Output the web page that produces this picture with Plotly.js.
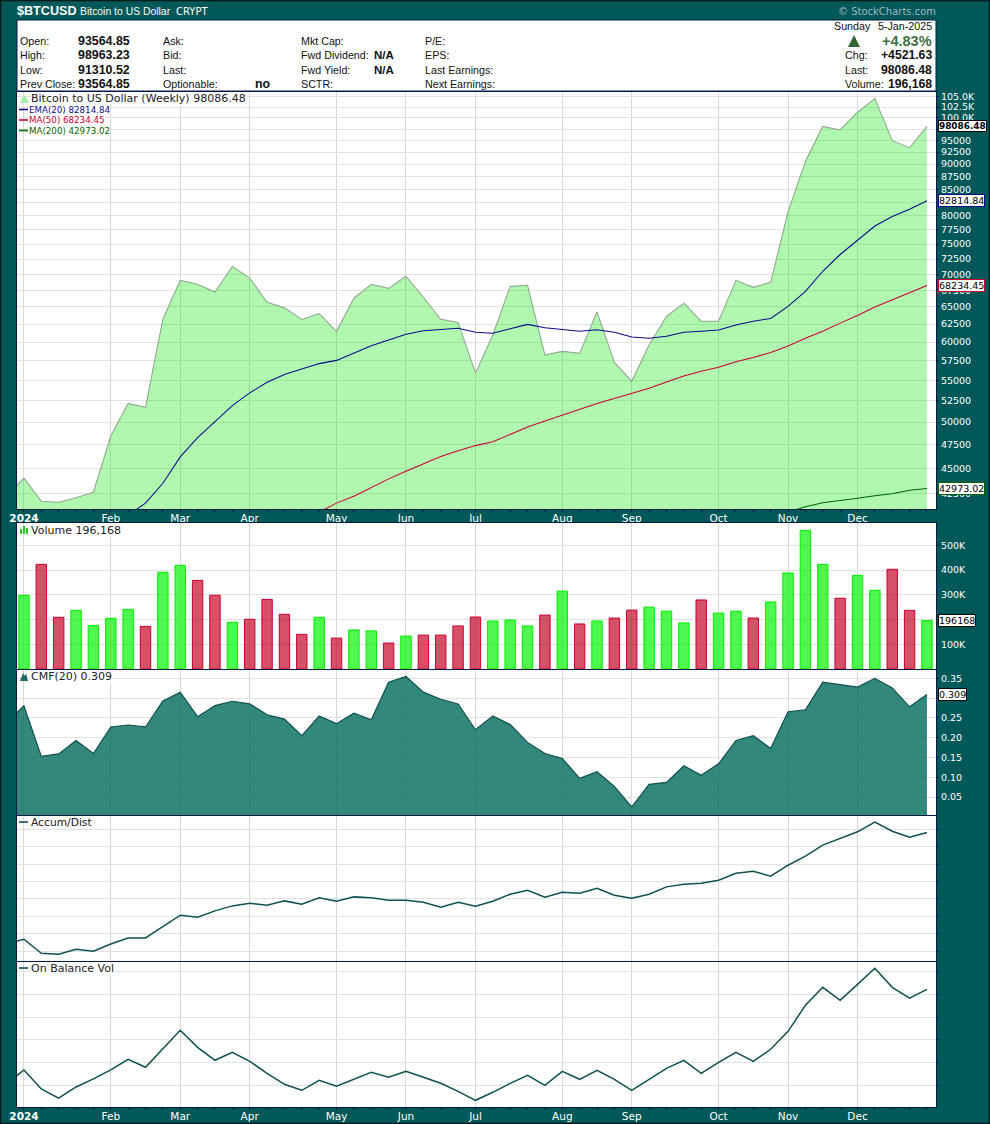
<!DOCTYPE html>
<html><head><meta charset="utf-8">
<script src="https://cdn.plot.ly/plotly-3.0.0.min.js"></script>
<style>html,body{margin:0;padding:0;background:#005858}#c{width:990px;height:1124px}</style>
</head><body><div id="c"></div>
<script>
// ---- data (weekly, index 0 = first week of 2024; index -1 is the clipped week before) ----
const weekIndex = [-1,0,1,2,3,4,5,6,7,8,9,10,11,12,13,14,15,16,17,18,19,20,21,22,23,24,25,26,27,28,29,30,31,32,33,34,35,36,37,38,39,40,41,42,43,44,45,46,47,48,49,50,51,52];
const monthIndex = [0,5,9,13,18,22,26,31,35,40,44,48];
const monthLabels = ['<b>2024</b>','Feb','Mar','Apr','May','Jun','Jul','Aug','Sep','Oct','Nov','Dec'];
const closePrice = [42270,44000,41730,41640,42075,42600,48430,52155,51700,63200,69060,68440,67230,71270,69420,65700,64860,63160,64000,61490,66300,68440,67810,69690,66450,63200,62740,55890,60970,68120,68280,58240,58740,58470,64240,57280,54870,59600,63600,65560,62920,62920,69060,67960,68750,80740,90550,98090,97300,101300,104500,95000,93400,98086.48];
const ema20Start = 6;
const ema20 = [40430,41560,43480,46180,48240,50030,51900,53430,54750,55720,56430,57120,57540,58470,59500,60280,61060,61570,61770,61900,61340,61210,61850,62460,61980,61700,61490,61700,61340,60680,60510,60790,61340,61490,61670,62360,62920,63310,65090,67340,70500,73250,75730,78170,79890,81200,82814.84];
const ma50Start = 17;
const ma50 = [40720,41560,42210,43090,43920,44700,45470,46210,46830,47380,47790,48620,49440,50110,50790,51400,52150,52760,53390,54000,54770,55540,56120,56650,57370,57910,58600,59450,60510,61490,62640,63730,65000,66080,67190,68234.45];
const ma200Start = 44;
const ma200 = [40720,41210,41590,41790,42020,42270,42460,42790,42973.02];
const volume = [297600,423000,209000,237000,176000,205000,241000,172000,391000,419000,358000,298000,189000,201000,281000,221000,140000,209000,125000,158000,154000,105000,133000,137000,137000,174000,210000,194000,198000,174000,218000,315000,182000,194000,206000,238000,250000,234000,186000,279000,226000,234000,206000,271000,388000,560000,423000,286000,378000,318000,403000,237000,196168];
const volumeDirection = 'GRRGGGGRGGRRGRRRRGRGGRGRRRRGGGRGRGRRGGGRGGRGGGGRGGRRG';
const cmf = [0.237,0.2805,0.1525,0.159,0.1927,0.160,0.227,0.232,0.227,0.293,0.315,0.253,0.281,0.292,0.2856,0.258,0.247,0.205,0.2546,0.2354,0.262,0.2454,0.340,0.355,0.315,0.297,0.285,0.220,0.255,0.233,0.188,0.160,0.1475,0.097,0.114,0.077,0.025,0.082,0.087,0.129,0.105,0.134,0.193,0.205,0.1726,0.2655,0.2705,0.340,0.334,0.328,0.350,0.3257,0.278,0.309];
const accumDist = [0.45,0.688,-0.115,-0.172,0.115,0,0.42,0.765,0.765,1.396,2.065,1.95,2.314,2.6,2.753,2.64,2.887,2.696,3.06,2.868,3.117,3.06,2.925,2.925,2.81,2.524,2.81,2.58,2.868,3.27,3.5,3.1,3.384,3.327,3.614,3.212,3.04,3.27,3.69,3.843,3.9,4.07,4.474,4.59,4.3,4.93,5.45,6.08,6.46,6.845,7.4,6.88,6.54,6.8];
const onBalanceVol = [0.07,0.675,-0.16,-0.57,-0.073,0.279,0.675,1.144,0.792,1.6,2.42,1.67,1.1,1.45,1.056,0.528,0.044,-0.22,0.22,-0.044,0.264,0.572,0.352,0.616,0.352,0.088,-0.264,-0.66,-0.308,0.088,0.44,0,0.616,0.264,0.66,0.264,-0.22,0.264,0.748,1.1,0.528,1.012,1.452,1.056,1.584,2.375,3.52,4.31,3.74,4.44,5.147,4.31,3.83,4.22];
const priceTicks = [105000,102500,100000,97500,95000,92500,90000,87500,85000,82500,80000,77500,75000,72500,70000,67500,65000,62500,60000,57500,55000,52500,50000,47500,45000,42500];
const priceTickLabels = ['105.0K','102.5K','100.0K','','95000','92500','90000','87500','85000','','80000','77500','75000','72500','70000','67500','65000','62500','60000','57500','55000','52500','50000','47500','45000','42500'];
const volumeTicks = [100000,200000,300000,400000,500000];
const volumeTickLabels = ['100K','200K','300K','400K','500K'];
const cmfTicks = [0.05,0.10,0.15,0.20,0.25,0.30,0.35];
const cmfTickLabels = ['0.05','0.10','0.15','0.20','0.25','0.30','0.35'];
const accumGrid = [0,1,2,3,4,5,6,7];
const obvGrid = [0,1,2,3,4,5];
const column1 = ['Open:','High:','Low:','Prev Close:'];
const quoteValues = ['93564.85','98963.23','91310.52','93564.85'];
const column2 = ['Ask:','Bid:','Last:','Optionable:'];
const column3 = ['Mkt Cap:','Fwd Dividend:','Fwd Yield:','SCTR:'];
const column4 = ['P/E:','EPS:','Last Earnings:','Next Earnings:'];
const rightLabels = ['Chg:','Last:','Volume:'];
const rightValues = ['+4521.63','98086.48','196,168'];

// ---- layout helpers ----
const W=990,H=1124,L=17,R=936;
const TEAL='#005858',NAVY='#001a44',GRID='#e2e2e2',VGRID='#d8d8d8',LINE='#0f5050';
const px=x=>x/W, py=y=>1-y/H;
const panels=[[92,509],[523,669],[670,815],[816,961],[962,1107]];
const HF='"Liberation Sans",Arial,sans-serif', DF='"DejaVu Sans",Verdana,sans-serif';
const annotations=[], shapes=[];
function note(x,y,text,o={}){annotations.push(Object.assign({xref:'paper',yref:'paper',x:px(x),y:py(y),text,showarrow:false,xanchor:'left',yanchor:'middle',borderpad:0,borderwidth:0,font:{family:HF,size:10.7,color:'#111'}},o));}
function path(d,fill,line){shapes.push({type:'path',xref:'paper',yref:'paper',layer:'above',path:d,fillcolor:fill||'rgba(0,0,0,0)',line:{color:line||fill,width:line?1.6:0}});}
function P(pts,close=true){return 'M'+pts.map(p=>px(p[0])+','+py(p[1])).join('L')+(close?'Z':'');}
function dash(y,c){path(P([[19,y],[28,y]],false),null,c);}

function xaxis(n,labels){
 return {domain:[px(L),px(R)],range:[-0.4,52.52],anchor:'y'+(n==1?'':n),showgrid:true,gridcolor:VGRID,gridwidth:1,zeroline:false,
  showline:true,mirror:true,linecolor:NAVY,linewidth:1,tickmode:'array',tickvals:monthIndex,ticktext:monthLabels,showticklabels:!!labels,
  ticks:labels?'outside':'',ticklen:2,tickcolor:NAVY,tickfont:{family:DF,size:10.5,color:'#fff'},ticklabelstandoff:-3,
  minor:labels?{dtick:1,tick0:0,ticks:'outside',ticklen:2,tickcolor:NAVY,showgrid:false}:undefined};
}
function yaxis(n,o){
 const p=panels[n-1];
 return Object.assign({domain:[py(p[1]),py(p[0])],anchor:'x'+(n==1?'':n),side:'right',showgrid:true,gridcolor:GRID,gridwidth:1,zeroline:false,
  showline:true,mirror:true,linecolor:NAVY,linewidth:1,ticks:'outside',ticklen:2,tickcolor:NAVY,tickfont:{family:DF,size:9.5,color:'#fff'},tickmode:'array'},o);
}
const last=a=>a[a.length-1];
const tagX=52.52+0.145;
function tag(axis,val,yVal,color,isBold){
 annotations.push({xref:'paper',yref:axis,x:px(938),y:yVal,text:isBold?'<b>'+val+'</b>':val,showarrow:false,xanchor:'left',yanchor:'middle',
  bgcolor:'#fff',bordercolor:color,borderwidth:1,borderpad:0,font:{family:DF,size:isBold?8.9:9.5,color:'#000'}});
}
const traces=[];
// price panel
traces.push({x:weekIndex,y:closePrice,type:'scatter',mode:'lines',fill:'tozeroy',fillcolor:'rgba(0,230,0,0.31)',line:{color:'#90aa90',width:1.1},xaxis:'x',yaxis:'y',hoverinfo:'skip'});
const line=(start,arr,c)=>traces.push({x:arr.map((_,i)=>start+i),y:arr,type:'scatter',mode:'lines',line:{color:c,width:1.05},xaxis:'x',yaxis:'y',hoverinfo:'skip'});
line(ema20Start,ema20,'#0a0a8c');
line(ma50Start,ma50,'#cc0033');
line(ma200Start,ma200,'#006400');
// volume panel
const isUp=volume.map((_,i)=>volumeDirection[i]==='G');
traces.push({x:volume.map((_,i)=>i),y:volume,type:'bar',width:0.6,marker:{color:isUp.map(g=>g?'rgba(0,245,0,0.69)':'rgba(196,5,39,0.7)'),line:{color:isUp.map(g=>g?'#00ee00':'#cc0033'),width:1}},xaxis:'x2',yaxis:'y2',hoverinfo:'skip'});
// CMF
traces.push({x:weekIndex,y:cmf,type:'scatter',mode:'lines',fill:'tozeroy',fillcolor:'rgba(0,105,90,0.8)',line:{color:LINE,width:1.2},xaxis:'x3',yaxis:'y3',hoverinfo:'skip'});
// Accum/Dist, OBV
traces.push({x:weekIndex,y:accumDist,type:'scatter',mode:'lines',line:{color:LINE,width:1.5},xaxis:'x4',yaxis:'y4',hoverinfo:'skip'});
traces.push({x:weekIndex,y:onBalanceVol,type:'scatter',mode:'lines',line:{color:LINE,width:1.5},xaxis:'x5',yaxis:'y5',hoverinfo:'skip'});
// tag pointers (triangles) on the last values
function pointer(xa,ya,val,c){traces.push({x:[tagX],y:[val],type:'scatter',mode:'markers',cliponaxis:false,marker:{symbol:'triangle-left',size:7,color:'#fff',line:{color:c,width:1}},xaxis:xa,yaxis:ya,hoverinfo:'skip'});}
pointer('x','y',last(closePrice),'#000');
pointer('x','y',last(ema20),'#0a0a8c');
pointer('x','y',last(ma50),'#cc0033');
pointer('x','y',last(ma200),'#006400');
pointer('x2','y2',last(volume),'#000');
pointer('x3','y3',last(cmf),'#000');

// frame & header
shapes.push({type:'rect',xref:'paper',yref:'paper',layer:'below',x0:px(L),x1:px(R),y0:py(91),y1:py(20),fillcolor:'#fff',line:{color:NAVY,width:1}});
shapes.push({type:'rect',xref:'paper',yref:'paper',layer:'above',x0:px(0.5),x1:px(989.5),y0:py(1123.5),y1:py(0.5),fillcolor:'rgba(0,0,0,0)',line:{color:'#021a1a',width:1.5}});
note(17,11,'<b>$BTCUSD</b>',{font:{family:HF,size:12.6,color:'#fff'}});
note(80,11,'Bitcoin to US Dollar',{font:{family:HF,size:10.4,color:'#fff'}});
note(176,11,'CRYPT',{font:{family:DF,size:10,color:'#fff'}});
note(936,11,'© StockCharts.com',{xanchor:'right',font:{family:DF,size:10,color:'#9fb9c4'}});
const rows=[41,55,70,84];
const boldFont={font:{family:HF,size:12.4,color:'#111'}};
column1.forEach((v,i)=>note(20,rows[i],v));
quoteValues.forEach((v,i)=>note(78,rows[i],'<b>'+v+'</b>',boldFont));
column2.forEach((v,i)=>note(163,rows[i],v));
note(255,rows[3]+0.5,'<b>no</b>',boldFont);
column3.forEach((v,i)=>note(301,rows[i],v));
note(374,rows[1],'<b>N/A</b>',{font:{family:HF,size:11.5,color:'#111'}});
note(374,rows[2],'<b>N/A</b>',{font:{family:HF,size:11.5,color:'#111'}});
column4.forEach((v,i)=>note(425,rows[i],v));
note(834,26,'Sunday');
note(931.5,26,'5-Jan-2025',{xanchor:'right'});
path(P([[854,35],[860,47],[848,47]]),'#336633');
note(931.5,41,'<b>+4.83%</b>',{xanchor:'right',font:{family:HF,size:14.5,color:'#3f6f3f'}});
rightLabels.forEach((v,i)=>note(845,rows[i+1],v));
rightValues.forEach((v,i)=>note(931.5,rows[i+1],'<b>'+v+'</b>',{xanchor:'right',font:{family:HF,size:12.2,color:'#111'}}));

// panel legends
const lg=(x,y,t,c,s)=>note(x,y,t,{bgcolor:'#fff',font:{family:DF,size:s||11,color:c||'#222'}});
lg(31,98.5,'Bitcoin to US Dollar (Weekly) 98086.48');
lg(29,110,'EMA(20) 82814.84','#0a0a8c',8.7);
lg(29,120,'MA(50) 68234.45','#cc0033',8.7);
lg(29,131,'MA(200) 42973.02','#006400',8.7);
lg(31,530.5,'Volume 196,168');
lg(31,676.5,'CMF(20) 0.309');
lg(31,822.5,'Accum/Dist',null,10.7);
lg(31,968.5,'On Balance Vol');
path(P([[20,103],[23,96],[24,98],[25,95],[29,103]]),'#a5f0a5');
dash(109.5,'#0a0a8c');dash(120,'#cc0033');dash(130.5,'#006400');
dash(822,LINE);dash(968,LINE);
path(P([[20,534],[20,529],[22,529],[22,534]]),'#22cc22');
path(P([[23,534],[23,526],[25,526],[25,534]]),'#22cc22');
path(P([[26,534],[26,528],[28,528],[28,534]]),'#22cc22');
path(P([[20,681],[23,673],[25,676],[26,673],[28,681]]),'#1f6a64');

// value tags
tag('y',last(closePrice).toFixed(2),Math.log10(last(closePrice)),'#000',true);
tag('y',last(ema20).toFixed(2),Math.log10(last(ema20)),'#0a0a8c');
tag('y',last(ma50).toFixed(2),Math.log10(last(ma50)),'#cc0033');
tag('y',last(ma200).toFixed(2),Math.log10(last(ma200)),'#006400');
tag('y2',String(last(volume)),last(volume),'#000');
tag('y3',last(cmf).toFixed(3),last(cmf),'#000');

const layout={width:W,height:H,margin:{l:0,r:0,t:0,b:0},paper_bgcolor:TEAL,plot_bgcolor:'#fff',showlegend:false,barmode:'overlay',
 annotations,shapes,dragmode:false,
 xaxis:xaxis(1,true),xaxis2:xaxis(2,false),xaxis3:xaxis(3,false),xaxis4:xaxis(4,false),xaxis5:xaxis(5,true),
 yaxis:yaxis(1,{type:'log',range:[4.61285,5.02568],tickvals:priceTicks,ticktext:priceTickLabels}),
 yaxis2:yaxis(2,{range:[0,590000],tickvals:volumeTicks,ticktext:volumeTickLabels}),
 yaxis3:yaxis(3,{range:[0.0045,0.371],tickvals:cmfTicks,ticktext:cmfTickLabels}),
 yaxis4:yaxis(4,{range:[-0.556,7.75],tickvals:accumGrid,showticklabels:false}),
 yaxis5:yaxis(5,{range:[-0.955,5.425],tickvals:obvGrid,showticklabels:false})
};
Plotly.newPlot('c',traces,layout,{displayModeBar:false,staticPlot:true});
</script></body></html>
